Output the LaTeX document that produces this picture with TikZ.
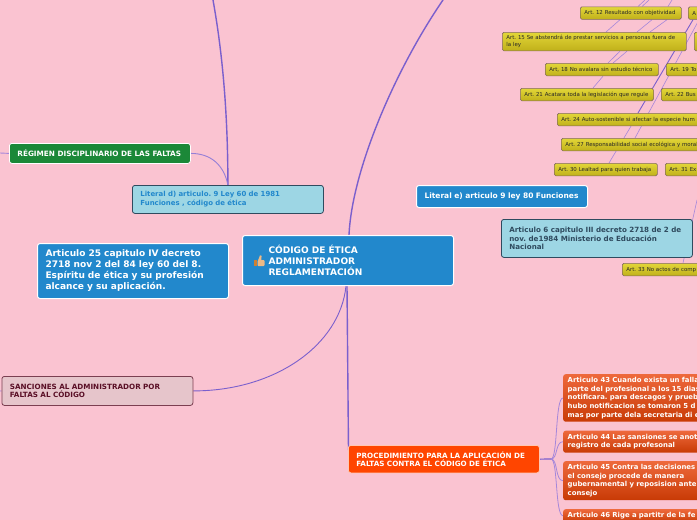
\documentclass[tikz,border=0pt]{standalone}
\usepackage{fontspec}
\setmainfont{DejaVu Sans}
\usepackage{xcolor}
\usetikzlibrary{positioning, calc, backgrounds}
\definecolor{cPink}{RGB}{250,195,209}
\definecolor{cBlue}{RGB}{34,136,204}
\definecolor{cSky}{RGB}{157,214,228}
\definecolor{cSlate}{RGB}{47,75,95}
\definecolor{cGreen}{RGB}{27,136,56}
\definecolor{cRose}{RGB}{230,197,203}
\definecolor{cWine}{RGB}{90,15,38}
\definecolor{cFire}{RGB}{255,69,0}
\definecolor{cLine}{RGB}{122,95,205}
\definecolor{cThin}{RGB}{165,135,218}
\definecolor{cYellowA}{RGB}{226,214,56}
\definecolor{cYellowB}{RGB}{192,176,26}
\definecolor{cUmber}{RGB}{130,105,95}
\definecolor{cLawA}{RGB}{238,105,60}
\definecolor{cLawB}{RGB}{200,58,5}
\tikzset{
	boxbase/.style={rectangle, rounded corners=2.5pt, anchor=north west, align=left, font=\bfseries},
	mainbox/.style={boxbase, draw=white, line width=1pt, fill=cBlue, text=white},
	skybox/.style={boxbase, draw=cSlate, line width=0.8pt, fill=cSky},
	greenbox/.style={boxbase, draw=white, line width=0.8pt, fill=cGreen, text=white},
	rosebox/.style={boxbase, draw=cWine!80!white, line width=0.8pt, fill=cRose, text=cWine},
	firebox/.style={boxbase, draw=white!70!cFire, line width=0.8pt, fill=cFire, text=white},
	artbox/.style={boxbase, rounded corners=1.5pt, draw=cUmber, line width=0.7pt, top color=cYellowA, bottom color=cYellowB, text=black!85, inner xsep=4pt, inner ysep=0pt},
	lawbox/.style={boxbase, draw=none, top color=cLawA, bottom color=cLawB, text=white, inner xsep=4.5pt, inner ysep=1pt},
	thicklink/.style={cLine, line width=1.4pt},
	midlink/.style={cLine, line width=0.9pt},
	thinlink/.style={cThin, line width=0.6pt},
}
\begin{document}
\frenchspacing
\begin{tikzpicture}[x=1pt, y=-1pt]
	\useasboundingbox (0,0) rectangle (697,520);
	\clip (0,0) rectangle (697,520);
	% main branches
	\node[mainbox, text width=159pt, minimum height=50pt, inner xsep=26pt, inner ysep=0pt, font=\bfseries\fontsize{9.05}{11}\selectfont] (codigo) at (242,235) {CÓDIGO DE ÉTICA\\ADMINISTRADOR\\REGLAMENTACIÓN};
	\node[skybox, text=cBlue, text width=175pt, minimum height=28pt, inner xsep=8pt, inner ysep=0pt, font=\bfseries\fontsize{6.95}{9}\selectfont] (literald) at (132,185) {Literal d) articulo. 9 Ley 60 de 1981\\Funciones , código de ética};
	\node[greenbox, text width=165pt, minimum height=20pt, inner xsep=8pt, inner ysep=0pt, font=\bfseries\fontsize{7.3}{8}\selectfont] (regimen) at (9,143) {RÉGIMEN DISCIPLINARIO DE LAS FALTAS};
	\node[mainbox, text width=175pt, minimum height=55pt, inner xsep=8pt, inner ysep=0pt, font=\bfseries\fontsize{9.05}{11}\selectfont] (art25) at (37,243) {Articulo 25 capitulo IV decreto\\2718 nov 2 del 84 ley 60 del 8.\\Espíritu de ética y su profesión\\alcance y su aplicación.};
	\node[mainbox, text width=155pt, minimum height=22pt, inner xsep=8pt, inner ysep=0pt, font=\bfseries\fontsize{7.5}{9}\selectfont] (literale) at (416,185) {Literal e) articulo 9 ley 80 Funciones};
	\node[skybox, text=cSlate, text width=175pt, minimum height=38pt, inner xsep=8pt, inner ysep=0pt, font=\bfseries\fontsize{7.15}{8.5}\selectfont] (art6) at (501,219) {Articulo 6 capitulo III decreto 2718 de 2 de\\nov. de1984 Ministerio de Educación\\Nacional};
	\node[rosebox, text width=175pt, minimum height=29pt, inner xsep=8pt, inner ysep=0pt, font=\bfseries\fontsize{7.2}{8}\selectfont] (sanciones) at (1.5,376) {SANCIONES AL ADMINISTRADOR POR\\FALTAS AL CÓDIGO};
	\node[firebox, text width=175pt, minimum height=27.5pt, inner xsep=8pt, inner ysep=0pt, font=\bfseries\fontsize{7.2}{8}\selectfont] (proced) at (348,445) {PROCEDIMIENTO PARA LA APLICACIÓN DE\\FALTAS CONTRA EL CÓDIGO DE ÉTICA};
	% thumb icon
	\fill[brown!80!orange] (254,260) rectangle (257,266);
	\fill[orange!45!brown!55!white, rounded corners=1pt] (257.5,260) rectangle (264.7,266);
	\fill[orange!45!brown!55!white] (258,260.5) -- (260,255.3) -- (261.6,255.8) -- (261.2,260.5) -- cycle;
	% articles
	\foreach \n/\x/\y/\w/\h/\t in {
		art12/580/6.5/93/12.5/{Art. 12 Resultado con objetividad},
		art13/688/6.5/40/12.5/{A},
		art15/502/32/176/18.5/{Art. 15 Se abstendrá de prestar servicios a personas fuera de\\la ley},
		art16/694/32/40/18.5/{},
		art18/545/63/105/12.5/{Art, 18 No avalara sin estudio técnico},
		art19/666/63/60/12.5/{Art. 19 To},
		art21/520/88/125/12.5/{Art. 21 Acatara toda la legislación que regule},
		art22/661/88/60/12.5/{Art. 22 Bus},
		art24/557/113/170/12.5/{Art. 24 Auto-sostenible si afectar la especie hum},
		art27/561/138/170/12.5/{Art. 27 Responsabilidad social ecológica y moral},
		art30/554/163/95/12.5/{Art. 30 Lealtad para quien trabaja},
		art31/665/163/60/12.5/{Art. 31 Ex},
		art33/622/263/100/12.5/{Art. 33 No actos de comp}} {
		\node[artbox, text width=\w pt, minimum height=\h pt, font=\fontsize{5.45}{6.8}\selectfont] (\n) at (\x,\y) {\t};
	}
	% procedures
	\foreach \n/\y/\h/\t in {
		art43/374/47.5/{Articulo 43 Cuando exista un falla\\parte del profesional a los 15 dias\\notificara. para descagos y prueb\\hubo notificacion se tomaron 5 d\\mas por parte dela secretaria di e},
		art44/430.5/22/{Articulo 44 Las sansiones se anot\\registro de cada profesonal},
		art45/461/39/{Articulo 45 Contra las decisiones\\el consejo procede de manera\\gubernamental y reposision ante\\consejo},
		art46/509/13/{Articulo 46 Rige a partitr de la fe}} {
		\node[lawbox, text width=170pt, minimum height=\h pt, font=\bfseries\fontsize{6.9}{8.6}\selectfont] (\n) at (563,\y) {\t};
	}
	% free ends
	\coordinate (topleft) at (213,0);
	\coordinate (topmid) at (443,0);
	\coordinate (leftreg) at (0,153);
	\coordinate (leftsan) at (0,391);
	\coordinate (fork) at (551,459);
	\coordinate (topa) at (645,0);
	\coordinate (topb) at (649,0);
	\coordinate (topc) at (672,0);
	\coordinate (rightb) at (700,18);
	\coordinate (rightc) at (697,200);
	\begin{scope}[on background layer]
		\fill[cPink] (0,0) rectangle (697,520);
		\draw[thicklink] (literald.north) .. controls +(0,-75) and (222,50) .. (topleft);
		\draw[thinlink, cLine!80!white, line width=0.9pt] (regimen.east) .. controls +(20,0) and (224,165) .. (literald.north);
		\draw[thinlink, line width=0.9pt] (leftreg) -- (regimen.west);
		\draw[thicklink] ([xshift=107pt]codigo.north west) .. controls +(3,-65) and (395,70) .. (topmid);
		\draw[midlink] ([xshift=104pt]codigo.south west) .. controls (340,345) and (275,391) .. (sanciones.east);
		\draw[thinlink, line width=0.9pt] (leftsan) -- (sanciones.west);
		\draw[thicklink] ([xshift=105pt]codigo.south west) -- ([xshift=0.5pt,yshift=-5pt]proced.north west);
		\draw[midlink, line width=1.2pt] (proced.east) -- (fork);
		\foreach \n in {art43, art44, art45, art46}
			\draw[thinlink, line width=0.8pt] (fork) .. controls +(7,0) and ($(\n.west)+(-8,0)$) .. (\n.west);
		\draw[thinlink] (topa) -- ([xshift=58pt]art12.north west);
		\draw[thinlink] (topb) -- ([xshift=62pt]art12.north west);
		\draw[thinlink] (topc) -- ([xshift=88pt]art12.north west);
		\draw[thinlink] ([xshift=40pt]art12.south west) -- ([xshift=104pt]art15.north west);
		\draw[thinlink] ([xshift=72pt]art12.south west) -- ([xshift=135pt]art15.north west);
		\draw[thinlink] ([xshift=87pt]art12.south west) -- ([xshift=148pt]art15.north west);
		\draw[thinlink] ([xshift=118pt]art15.south west) -- ([xshift=63pt]art18.north west);
		\draw[thinlink] ([xshift=125pt]art15.south west) -- ([xshift=68pt]art18.north west);
		\draw[thinlink] ([xshift=58pt]art18.south west) -- ([xshift=73pt]art21.north west);
		\draw[midlink] ([xshift=5pt]art13.south west) -- ([xshift=81pt]art24.north west);
		\draw[thinlink] (rightb) -- ([xshift=74pt]art27.north west);
		\draw[thinlink] ([xshift=74pt]art24.south west) -- ([xshift=55pt]art30.north west);
		\draw[thinlink] (rightc) -- ([xshift=61pt]art33.north west);
	\end{scope}
\end{tikzpicture}
\end{document}
